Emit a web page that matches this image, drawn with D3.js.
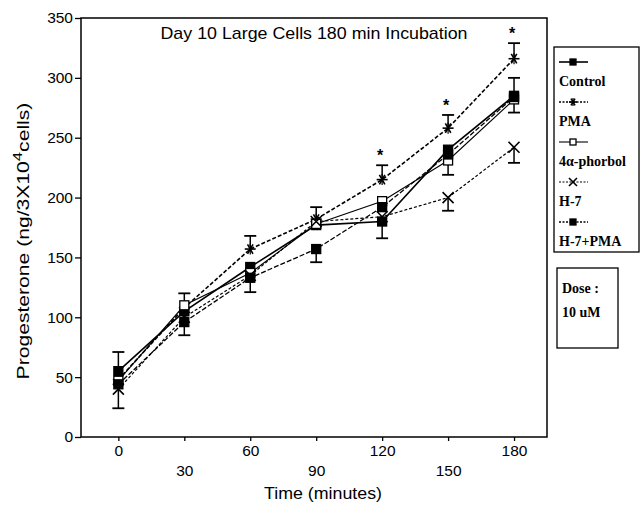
<!DOCTYPE html>
<html>
<head>
<meta charset="utf-8">
<script src="https://cdn.jsdelivr.net/npm/d3@7"></script>
<style>
body{margin:0;background:#fff;}
svg{display:block;}
</style>
</head>
<body>
<div id="chart"></div>
<script>
// dati
var times = [0, 30, 60, 90, 120, 150, 180];
var yTicks = [0, 50, 100, 150, 200, 250, 300, 350];

var control   = [55, 105, 142, 177, 180, 240, 285];
var pma       = [48, 108, 157, 182, 215, 258, 316];
var fourAlpha = [47, 110, 137, 178, 197, 231, 282];
var h7        = [40, 100, 135, 180, 184, 200, 242];
var h7pma     = [44, 96, 133, 157, 192, 236, 284];

// barre di errore (su / giu), 0 = non disegnata
var controlUp   = [16, 0, 0, 0, 0, 0, 15];
var controlDown = [0, 0, 0, 0, 14, 0, 14];
var pmaUp       = [0, 12, 11, 10, 12, 11, 13];
var pmaDown     = [0, 0, 0, 0, 0, 0, 0];
var fourUp      = [0, 0, 0, 0, 0, 0, 0];
var fourDown    = [0, 0, 0, 0, 0, 12, 0];
var h7Up        = [0, 0, 0, 0, 0, 0, 0];
var h7Down      = [16, 0, 0, 0, 0, 11, 13];
var h7pmaUp     = [0, 0, 0, 0, 0, 0, 0];
var h7pmaDown   = [0, 11, 12, 11, 0, 0, 0];

// punti significativi (asterisco sopra PMA)
var pmaSignif = [false, false, false, false, true, true, true];

var seriesNames = ["Control", "PMA", "4\u03b1-phorbol", "H-7", "H-7+PMA"];

var larghezza = 643, altezza = 505;
var sinistra = 81, destra = 547, alto = 18, basso = 437;

var series = [
  {name: seriesNames[0], values: control,   up: controlUp, down: controlDown, marker: "filled", dash: null,  width: 1.6},
  {name: seriesNames[1], values: pma,       up: pmaUp,     down: pmaDown,     marker: "star",   dash: "4,2", width: 1.6},
  {name: seriesNames[2], values: fourAlpha, up: fourUp,    down: fourDown,    marker: "open",   dash: null,  width: 1.1},
  {name: seriesNames[3], values: h7,        up: h7Up,      down: h7Down,      marker: "cross",  dash: "3,2", width: 1.2},
  {name: seriesNames[4], values: h7pma,     up: h7pmaUp,   down: h7pmaDown,   marker: "filled", dash: "5,2", width: 1.3}
];

var x = d3.scaleLinear().domain([-17, 195]).range([sinistra, destra]);
var y = d3.scaleLinear().domain([0, 350]).range([basso, alto]);

var svg = d3.select("#chart").append("svg")
  .attr("width", larghezza)
  .attr("height", altezza)
  .style("font-family", "'Liberation Sans', Arial, sans-serif");

// cornice del grafico
svg.append("rect")
  .attr("x", sinistra).attr("y", alto)
  .attr("width", destra - sinistra).attr("height", basso - alto)
  .attr("fill", "none").attr("stroke", "#000").attr("stroke-width", 1.5);

// asse Y
var assey = svg.append("g")
  .attr("transform", "translate(" + sinistra + ",0)")
  .call(d3.axisLeft(y).tickValues(yTicks).tickSize(6).tickPadding(2).tickFormat(d3.format("d")));
assey.select(".domain").remove();
assey.selectAll("line").attr("stroke-width", 1.3);
assey.selectAll("text").attr("font-size", 15.5).attr("fill", "#000");

// asse X con etichette alternate
var assex = svg.append("g")
  .attr("transform", "translate(0," + basso + ")")
  .call(d3.axisBottom(x).tickValues(times).tickSize(4).tickPadding(4).tickFormat(d3.format("d")));
assex.select(".domain").remove();
assex.selectAll("line").attr("stroke-width", 1.3);
assex.selectAll("text")
  .attr("font-size", 15.5).attr("fill", "#000")
  .attr("dy", function(d, i) { return i % 2 == 1 ? "2.0em" : "0.71em"; });

// titoli
svg.append("text")
  .attr("x", 314).attr("y", 39)
  .attr("text-anchor", "middle").attr("font-size", 17)
  .attr("textLength", 307).attr("lengthAdjust", "spacingAndGlyphs")
  .text("Day 10 Large Cells 180 min Incubation");

svg.append("text")
  .attr("x", 323).attr("y", 499)
  .attr("text-anchor", "middle").attr("font-size", 16.5)
  .attr("textLength", 118).attr("lengthAdjust", "spacingAndGlyphs")
  .text("Time (minutes)");

var ylab = svg.append("text")
  .attr("text-anchor", "middle").attr("font-size", 16.5);
ylab.append("tspan").text("Progesterone (ng/3X10");
ylab.append("tspan").attr("dy", -7).attr("font-size", 13).text("4");
ylab.append("tspan").attr("dy", 7).text("cells)");
// allungo l'etichetta come nell'originale (circa 277 px)
var lungh = ylab.node().getBBox().width;
ylab.attr("transform", "translate(29,241) rotate(-90) scale(" + (277 / lungh) + ",1)");

// disegno dei marker
function drawMarker(g, tipo, cx, cy, s) {
  if (tipo == "filled" || tipo == "open") {
    g.append("rect")
      .attr("x", cx - s / 2).attr("y", cy - s / 2)
      .attr("width", s).attr("height", s)
      .attr("fill", tipo == "filled" ? "#000" : "#fff")
      .attr("stroke", "#000").attr("stroke-width", 1.3);
  } else if (tipo == "star") {
    [0, 60, 120].forEach(function(a) {
      var r = a * Math.PI / 180, dx = Math.cos(r) * s / 2, dy = Math.sin(r) * s / 2;
      g.append("line")
        .attr("x1", cx - dx).attr("y1", cy - dy).attr("x2", cx + dx).attr("y2", cy + dy)
        .attr("stroke", "#000").attr("stroke-width", 1.6);
    });
    g.append("line")
      .attr("x1", cx).attr("y1", cy - s / 2).attr("x2", cx).attr("y2", cy + s / 2)
      .attr("stroke", "#000").attr("stroke-width", 1.2);
  } else if (tipo == "cross") {
    var h = s / 2;
    g.append("path")
      .attr("d", "M" + (cx - h) + "," + (cy - h) + "L" + (cx + h) + "," + (cy + h) +
                 "M" + (cx - h) + "," + (cy + h) + "L" + (cx + h) + "," + (cy - h))
      .attr("stroke", "#000").attr("stroke-width", 1.6);
  }
}

var linea = d3.line()
  .x(function(d, i) { return x(times[i]); })
  .y(function(d) { return y(d); });

var plot = svg.append("g");

series.forEach(function(s) {
  plot.append("path")
    .datum(s.values)
    .attr("d", linea)
    .attr("fill", "none")
    .attr("stroke", "#000")
    .attr("stroke-width", s.width)
    .attr("stroke-dasharray", s.dash);
});

// barre di errore
var cap = 6;
series.forEach(function(s) {
  s.values.forEach(function(v, i) {
    var cx = x(times[i]);
    if (s.up[i] > 0) {
      plot.append("line").attr("x1", cx).attr("x2", cx)
        .attr("y1", y(v)).attr("y2", y(v + s.up[i]))
        .attr("stroke", "#000").attr("stroke-width", 1.5);
      plot.append("line").attr("x1", cx - cap).attr("x2", cx + cap)
        .attr("y1", y(v + s.up[i])).attr("y2", y(v + s.up[i]))
        .attr("stroke", "#000").attr("stroke-width", 1.8);
    }
    if (s.down[i] > 0) {
      plot.append("line").attr("x1", cx).attr("x2", cx)
        .attr("y1", y(v)).attr("y2", y(v - s.down[i]))
        .attr("stroke", "#000").attr("stroke-width", 1.5);
      plot.append("line").attr("x1", cx - cap).attr("x2", cx + cap)
        .attr("y1", y(v - s.down[i])).attr("y2", y(v - s.down[i]))
        .attr("stroke", "#000").attr("stroke-width", 1.8);
    }
  });
});

// marker sopra le linee
series.forEach(function(s) {
  s.values.forEach(function(v, i) {
    drawMarker(plot, s.marker, x(times[i]), y(v), s.marker == "star" || s.marker == "cross" ? 11 : 9);
  });
});

// asterischi di significativita
pma.forEach(function(v, i) {
  if (pmaSignif[i]) {
    plot.append("text")
      .attr("x", x(times[i]) - 2).attr("y", y(v + pmaUp[i]) - 4)
      .attr("text-anchor", "middle").attr("font-size", 16).attr("font-weight", "bold")
      .text("*");
  }
});

// legenda
var legX = 554, legY = 47;
var legenda = svg.append("g").style("font-family", "'Liberation Serif', 'Times New Roman', serif");
legenda.append("rect")
  .attr("x", legX).attr("y", legY).attr("width", 85).attr("height", 205)
  .attr("fill", "#fff").attr("stroke", "#000").attr("stroke-width", 1.3);

series.forEach(function(s, i) {
  var ly = legY + 15 + i * 40;
  legenda.append("line")
    .attr("x1", legX + 5).attr("x2", legX + 34)
    .attr("y1", ly).attr("y2", ly)
    .attr("stroke", "#000").attr("stroke-width", s.width)
    .attr("stroke-dasharray", s.dash == null ? null : "2,1.5");
  drawMarker(legenda, s.marker, legX + 19, ly, s.marker == "star" || s.marker == "cross" ? 8 : 6);
  legenda.append("text")
    .attr("x", legX + 5).attr("y", ly + 24)
    .attr("font-size", 14).attr("font-weight", "bold")
    .text(s.name);
});

// riquadro della dose
var dose = svg.append("g").style("font-family", "'Liberation Serif', 'Times New Roman', serif");
dose.append("rect")
  .attr("x", 557).attr("y", 268).attr("width", 61).attr("height", 80)
  .attr("fill", "#fff").attr("stroke", "#000").attr("stroke-width", 1.3);
dose.append("text").attr("x", 562).attr("y", 293).attr("font-size", 14).attr("font-weight", "bold").text("Dose :");
dose.append("text").attr("x", 562).attr("y", 317).attr("font-size", 14).attr("font-weight", "bold").text("10  uM");
</script>
</body>
</html>
